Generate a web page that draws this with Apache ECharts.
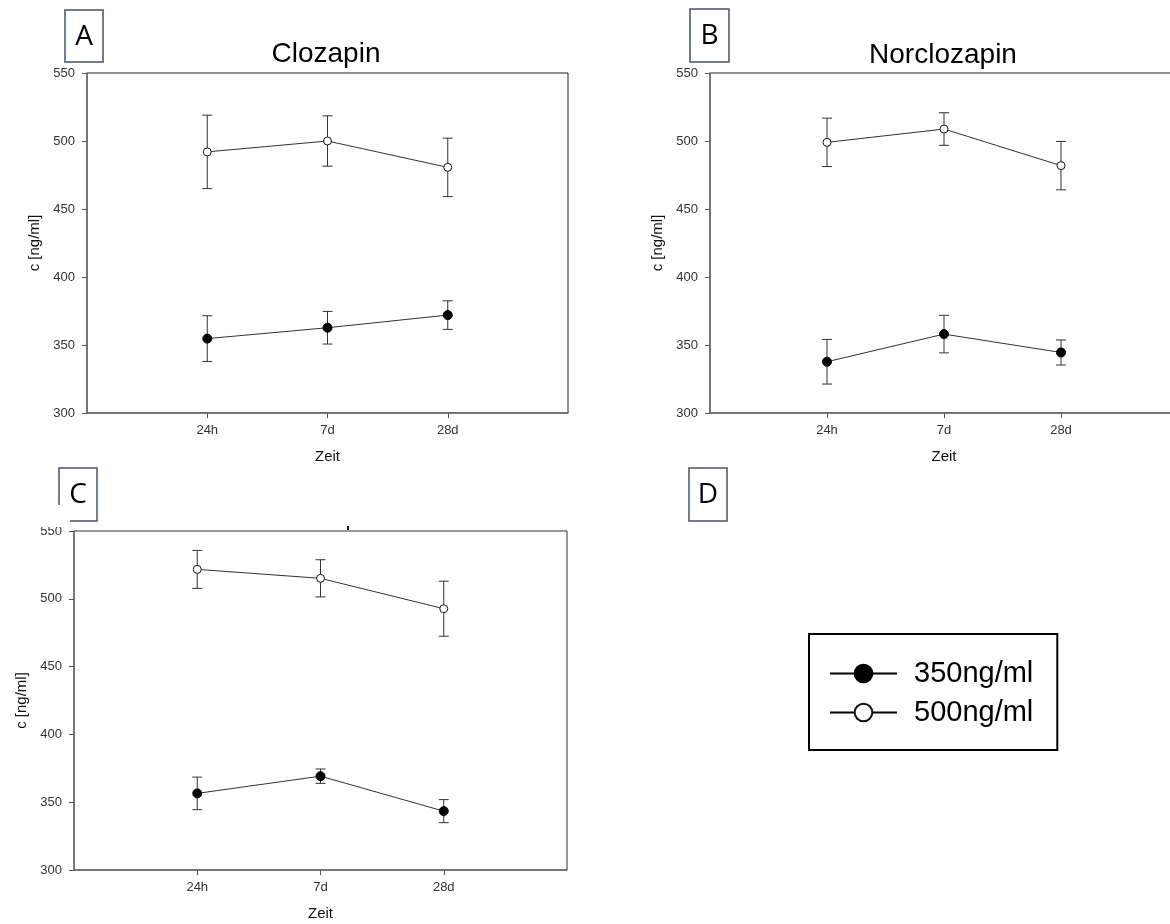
<!DOCTYPE html>
<html>
<head>
<meta charset="utf-8">
<script src="https://cdn.jsdelivr.net/npm/echarts@6/dist/echarts.min.js"></script>
<style>
html, body { margin: 0; padding: 0; background: #fff; }
#main { width: 1170px; height: 924px; }
</style>
</head>
<body>
<div id="main"></div>
<script>
// sampling times and y ticks
var times = ['24h', '7d', '28d'];
var yTicks = [300, 350, 400, 450, 500, 550];

// A: Clozapin
var cloz350 = [354.7, 362.7, 372.0];
var cloz350Err = [16.8, 12.0, 10.5];
var cloz500 = [492.0, 500.0, 480.6];
var cloz500Err = [27.0, 18.5, 21.5];

// B: Norclozapin
var nor350 = [337.7, 358.0, 344.5];
var nor350Err = [16.4, 13.8, 9.2];
var nor500 = [499.0, 508.8, 481.9];
var nor500Err = [17.8, 12.0, 17.8];

// C: (no title)
var c350 = [356.5, 369.2, 343.4];
var c350Err = [12.0, 5.3, 8.5];
var c500 = [521.7, 515.1, 492.7];
var c500Err = [14.0, 13.7, 20.3];

var seriesNames = ['350ng/ml', '500ng/ml'];

var FONT = '"Liberation Sans", Arial, sans-serif';

var dom = document.getElementById('main');
var myChart = echarts.init(dom);

function pts(vals) {
    return vals.map(function (v, i) { return [i + 1, v]; });
}

function xAxisFor(idx) {
    return {
        type: 'value',
        gridIndex: idx,
        min: 0,
        max: times.length + 1,
        interval: 1,
        name: 'Zeit',
        nameLocation: 'middle',
        nameGap: 36,
        nameTextStyle: { fontFamily: FONT, fontSize: 15, color: '#111' },
        axisLine: { lineStyle: { color: '#6e6e6e', width: 1.5 } },
        axisTick: { length: 5, customValues: [1, 2, 3], lineStyle: { color: '#555' } },
        axisLabel: {
            customValues: [1, 2, 3],
            margin: 11,
            fontFamily: FONT, fontSize: 13, color: '#333',
            formatter: function (v) { return times[v - 1] || ''; }
        },
        splitLine: { show: false }
    };
}

function yAxisFor(idx) {
    return {
        type: 'value',
        gridIndex: idx,
        min: yTicks[0],
        max: yTicks[yTicks.length - 1],
        interval: yTicks[1] - yTicks[0],
        name: 'c [ng/ml]',
        nameLocation: 'middle',
        nameGap: 45,
        nameTextStyle: { fontFamily: FONT, fontSize: 15, color: '#111' },
        axisLine: { show: true, lineStyle: { color: '#6e6e6e', width: 1.5 } },
        axisTick: { show: true, length: 5, lineStyle: { color: '#555' } },
        axisLabel: { margin: 12, fontFamily: FONT, fontSize: 13, color: '#333' },
        splitLine: { show: false }
    };
}

function lineSeries(idx, name, vals, filled) {
    return {
        type: 'line',
        name: name,
        xAxisIndex: idx,
        yAxisIndex: idx,
        data: pts(vals),
        z: 3,
        symbol: 'circle',
        symbolSize: filled ? 9 : 8,
        lineStyle: { color: '#333', width: 1 },
        itemStyle: filled
            ? { color: '#000', borderColor: '#000', borderWidth: 1 }
            : { color: '#fff', borderColor: '#111', borderWidth: 1 },
        emphasis: { disabled: true },
        animation: false
    };
}

function errSeries(idx, vals, errs) {
    return {
        type: 'custom',
        xAxisIndex: idx,
        yAxisIndex: idx,
        z: 1,
        silent: true,
        animation: false,
        data: vals.map(function (m, i) { return [i + 1, m - errs[i], m + errs[i]]; }),
        renderItem: function (params, api) {
            var lo = api.coord([api.value(0), api.value(1)]);
            var hi = api.coord([api.value(0), api.value(2)]);
            var w = 5;
            var st = { stroke: '#333', lineWidth: 1 };
            return {
                type: 'group',
                children: [
                    { type: 'line', shape: { x1: lo[0], y1: lo[1], x2: hi[0], y2: hi[1] }, style: st },
                    { type: 'line', shape: { x1: lo[0] - w, y1: lo[1], x2: lo[0] + w, y2: lo[1] }, style: st },
                    { type: 'line', shape: { x1: hi[0] - w, y1: hi[1], x2: hi[0] + w, y2: hi[1] }, style: st }
                ]
            };
        }
    };
}

function panelBox(x, y, w, h, letter) {
    return {
        type: 'group',
        z: 100,
        children: [
            { type: 'rect', shape: { x: x, y: y, width: w, height: h },
              style: { fill: '#fff', stroke: '#44546a', lineWidth: 1.5 } },
            { type: 'text', x: x + w / 2, y: y + h / 2 + 1,
              style: { text: letter, fontFamily: '"Open Sans", "Noto Sans", sans-serif', fontSize: 28,
                       fill: '#000', align: 'center', verticalAlign: 'middle' } }
        ]
    };
}

var option = {
    backgroundColor: '#fff',
    animation: false,
    grid: [
        { left: 87, top: 73, width: 481, height: 340, show: true, borderColor: '#222', borderWidth: 1, outerBoundsMode: 'none' },
        { left: 710, top: 73, width: 468, height: 340, show: true, borderColor: '#222', borderWidth: 1, outerBoundsMode: 'none' },
        { left: 74, top: 531, width: 493, height: 339, show: true, borderColor: '#333', borderWidth: 1, outerBoundsMode: 'none' }
    ],
    xAxis: [xAxisFor(0), xAxisFor(1), xAxisFor(2)],
    yAxis: [yAxisFor(0), yAxisFor(1), yAxisFor(2)],
    legend: {
        data: seriesNames,
        orient: 'vertical',
        left: 809,
        top: 634,
        padding: [25, 24, 23, 20],
        itemWidth: 67,
        itemHeight: 22,
        itemGap: 10,
        borderColor: '#000',
        borderWidth: 2,
        selectedMode: false,
        lineStyle: { width: 2, color: '#000' },
        textStyle: { fontFamily: FONT, fontSize: 29, color: '#000', padding: [0, 0, 0, 12] }
    },
    graphic: [
        { type: 'text', x: 326, y: 54, z: 100,
          style: { text: 'Clozapin', fontFamily: FONT, fontSize: 28, fill: '#000', align: 'center', verticalAlign: 'middle' } },
        { type: 'text', x: 943, y: 55, z: 100,
          style: { text: 'Norclozapin', fontFamily: FONT, fontSize: 28, fill: '#000', align: 'center', verticalAlign: 'middle' } },
        // white band that clips the top of panel C's "550" label, as in the source
        { type: 'rect', z: 99, shape: { x: 30, y: 505, width: 40, height: 22 }, style: { fill: '#fff' } },
        { type: 'rect', z: 100, shape: { x: 347, y: 526, width: 2, height: 4 }, style: { fill: '#111' } },
        panelBox(65, 10, 38, 52, 'A'),
        panelBox(690, 9, 39, 53, 'B'),
        panelBox(59, 468, 38, 53, 'C'),
        panelBox(689, 468, 38, 53, 'D')
    ],
    series: [
        errSeries(0, cloz500, cloz500Err),
        errSeries(0, cloz350, cloz350Err),
        lineSeries(0, seriesNames[0], cloz350, true),
        lineSeries(0, seriesNames[1], cloz500, false),

        errSeries(1, nor500, nor500Err),
        errSeries(1, nor350, nor350Err),
        lineSeries(1, seriesNames[0], nor350, true),
        lineSeries(1, seriesNames[1], nor500, false),

        errSeries(2, c500, c500Err),
        errSeries(2, c350, c350Err),
        lineSeries(2, seriesNames[0], c350, true),
        lineSeries(2, seriesNames[1], c500, false)
    ]
};

if (option && typeof option === 'object') {
    myChart.setOption(option, true);
}
</script>
</body>
</html>
